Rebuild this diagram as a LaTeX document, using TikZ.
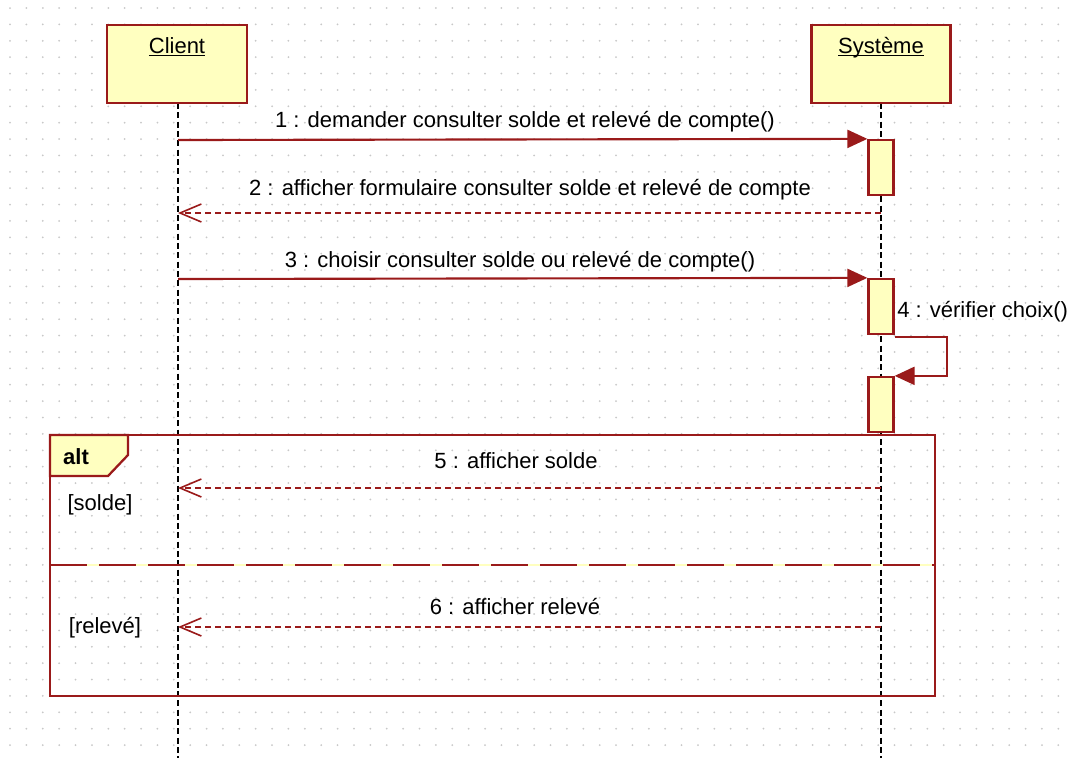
\documentclass[tikz,border=0pt]{standalone}
\usepackage{fontspec}
\setmainfont{Liberation Sans}
\usepackage{xcolor}
\usetikzlibrary{arrows.meta,positioning}

\definecolor{umlred}{HTML}{9A1A1A}
\definecolor{umlfill}{HTML}{FFFFC0}
\definecolor{griddot}{HTML}{C8C8C8}
\newcommand{\pxu}{0.75pt}

\tikzset{
  actorbox/.style={draw=umlred, fill=umlfill, line width=1.7pt, minimum width={140*\pxu}, minimum height={78*\pxu}},
  actbox/.style={draw=umlred, fill=umlfill, line width=1.7pt, minimum width={25*\pxu}, inner sep=0pt},
  lifeline/.style={black, line width=1.9pt, dash pattern=on 4.5pt off 2.5pt},
  callmsg/.style={umlred, line width=1.6pt, -{Triangle[length=15pt,width=13.5pt]}},
  replymsg/.style={umlred, line width=1.5pt, dash pattern=on 4.5pt off 3pt, -{Straight Barb[length=16pt,width=13.5pt,line width=1.2pt]}},
  msglabel/.style={font=\fontsize{16.5}{19}\selectfont, inner sep=0pt},
  frameline/.style={umlred, line width=1.7pt}
}

\begin{document}
\begin{tikzpicture}[x=0.75pt, y=-0.75pt]
    \useasboundingbox (0,0) rectangle (1072,758);
    \fill[white] (0,0) rectangle (1072,758);
    % grid
    \foreach \i in {0,...,65}
        \foreach \j in {0,...,46}
            \fill[griddot] (10+16.38*\i, 8+16.38*\j) circle (0.75pt);

    % lifelines
    \coordinate (clientend) at (178,758);
    \coordinate (sysend) at (881,758);
    \draw[lifeline] (178,103) -- (clientend);
    \draw[lifeline] (881,103) -- (sysend);

    % actors
    \node[actorbox] (client) at (177,64) {};
    \node[actorbox, minimum width={139*\pxu}] (systeme) at (881,64) {};
    \node[msglabel] (clientname) at (177,55) {\underline{\smash{Client}}};
    \node[msglabel] (sysname) at (881,55) {\underline{\smash{Système}}};

    % activations
    \node[actbox, minimum height={55*\pxu}] (act1) at (881,167.5) {};
    \node[actbox, minimum height={55*\pxu}] (act2) at (881,306.5) {};
    \node[actbox, minimum height={55*\pxu}] (act3) at (881,404.5) {};

    % alt frame
    \draw[frameline] (50,435) rectangle (935,696);
    \draw[frameline, fill=umlfill] (50,435) -- (128,435) -- (128,455) -- (108,476) -- (50,476) -- cycle;
    \node[msglabel, font=\fontsize{16.5}{19}\selectfont\bfseries] (altname) at (76,457) {alt};
    \draw[umlfill, line width=1.7pt] (50,565) -- (935,565);
    \draw[umlred, line width=1.7pt, dash pattern=on 27.75pt off 9pt] (50,565) -- (935,565);
    \node[msglabel] (guard1) at (100,505) {[solde]};
    \node[msglabel] (guard2) at (105,628) {[relevé]};

    % messages
    \coordinate (c1) at (178,140);
    \draw[callmsg] (c1) -- (act1.north west);
    \node[msglabel] (m1) at (525,122) {1 : demander consulter solde et relevé de compte()};

    \coordinate (s2) at (881,213);
    \coordinate (c2) at (178,213);
    \draw[replymsg] (s2) -- (c2);
    \node[msglabel] (m2) at (530,190) {2 : afficher formulaire consulter solde et relevé de compte};

    \coordinate (c3) at (178,279);
    \draw[callmsg] (c3) -- (act2.north west);
    \node[msglabel] (m3) at (520,262) {3 : choisir consulter solde ou relevé de compte()};

    \draw[callmsg] ([yshift=-1.5pt]act2.south east) -- ++(52,0) |- (act3.north east);
    \node[msglabel, anchor=west] (m4) at (897,312) {4 : vérifier choix()};

    \coordinate (s5) at (881,488);
    \coordinate (c5) at (178,488);
    \draw[replymsg] (s5) -- (c5);
    \node[msglabel] (m5) at (516,461) {5 : afficher solde};

    \coordinate (s6) at (881,627);
    \coordinate (c6) at (178,627);
    \draw[replymsg] (s6) -- (c6);
    \node[msglabel] (m6) at (515,606) {6 : afficher relevé};
\end{tikzpicture}
\end{document}
